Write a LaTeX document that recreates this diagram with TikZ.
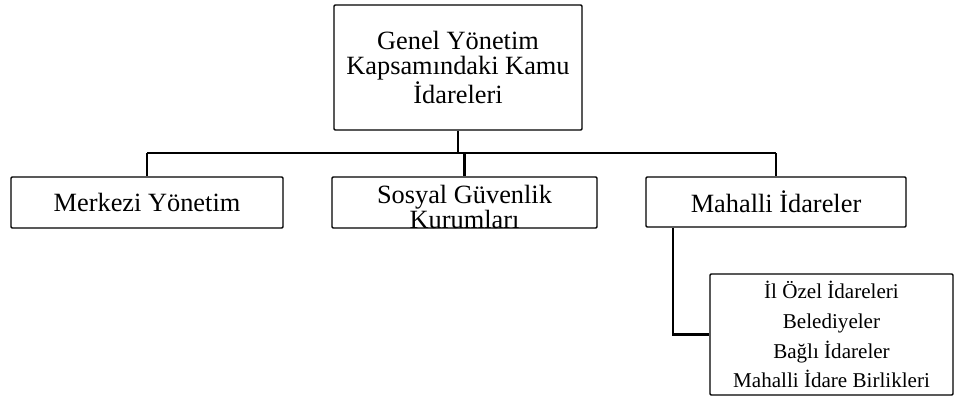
\documentclass[tikz,border=0pt]{standalone}
\usepackage{fontspec}
\setmainfont{Liberation Serif}
\usetikzlibrary{positioning}
\tikzset{
	kutu/.style={draw, line width=0.8pt, rounded corners=0.6pt, inner sep=0pt},
	ince/.style={line width=0.7pt},
	kalin/.style={line width=1.7pt},
	buyuk/.style={font=\fontsize{15}{14.5}\selectfont, align=center},
	kucuk/.style={font=\fontsize{12}{17}\selectfont, align=center}
}

\begin{document}
\begin{tikzpicture}[x=0.02cm, y=-0.02cm]
			%%%%% START %%%%%
			\useasboundingbox (0, 0) rectangle (954, 397);
			
			% ust kutu
			\node[kutu, buyuk, minimum width=248*0.02cm, minimum height=125*0.02cm] (genel) at (458, 67.5) {Genel Yönetim\\Kapsamındaki Kamu\\İdareleri};
			
			% ikinci sira
			\node[kutu, buyuk, minimum width=272*0.02cm, minimum height=51*0.02cm] (merkezi) at (147, 202.5) {Merkezi Yönetim};
			\node[kutu, minimum width=265*0.02cm, minimum height=51*0.02cm] (sosyal) at (464.5, 202.5) {};
			\node[buyuk, inner sep=0pt] (sosyalyazi) at (464.5, 207) {Sosyal Güvenlik\\[-0.6pt]Kurumları};
			\node[kutu, buyuk, minimum width=260*0.02cm, minimum height=50*0.02cm] (mahalli) at (776, 202) {Mahalli İdareler};
			
			% alt kutu
			\node[kutu, kucuk, minimum width=243*0.02cm, minimum height=121*0.02cm] (alt) at (831.5, 334.5) {İl Özel İdareleri\\Belediyeler\\Bağlı İdareler\\Mahalli İdare Birlikleri};
			
			% baglantilar
			\coordinate (hat) at (458, 153);
			\coordinate (dirsek) at (673, 334.5);
			\draw[ince] (merkezi.north |- hat) -- (mahalli.north |- hat);
			\draw[ince] (merkezi.north |- hat) -- (merkezi.north);
			\draw[ince] (mahalli.north |- hat) -- (mahalli.north);
			\draw[kalin] (genel.south) -- (hat);
			\draw[kalin] (sosyal.north |- hat) -- (sosyal.north);
			\draw[kalin] (mahalli.south -| dirsek) -- (dirsek) -- (alt.west);
			
			%%%%% END %%%%%
\end{tikzpicture}
\end{document}
